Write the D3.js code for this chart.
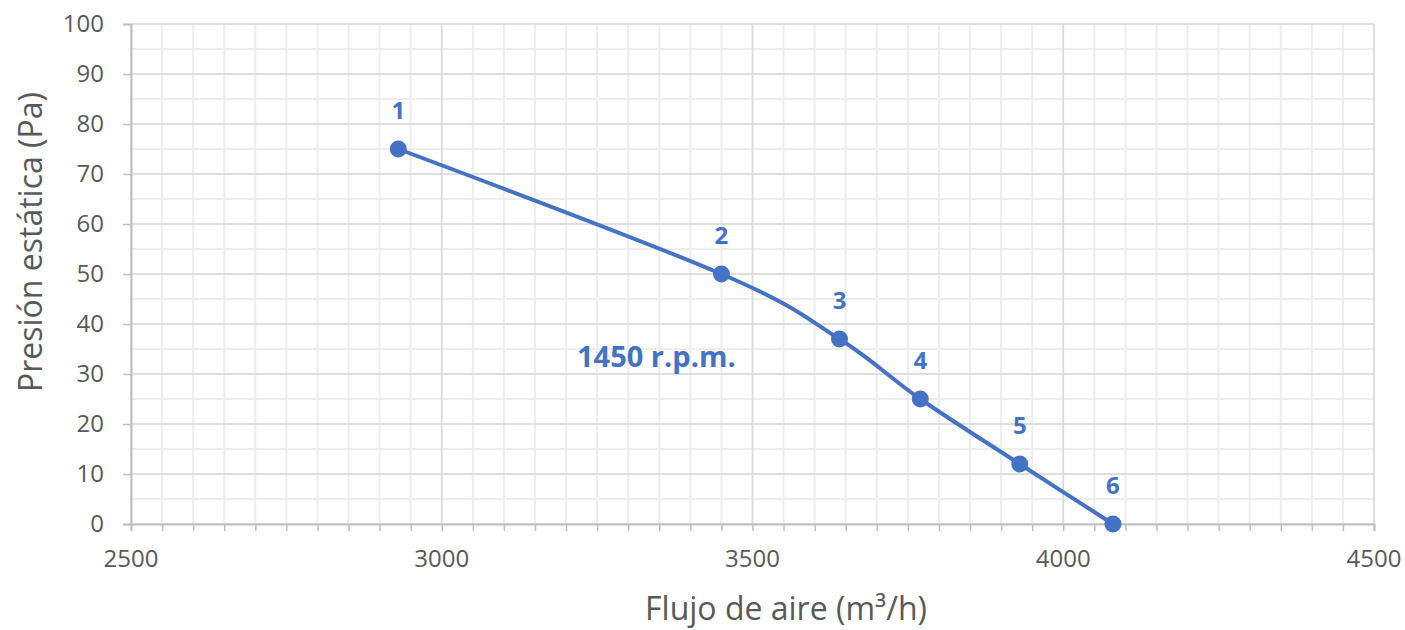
<!DOCTYPE html>
<html><head><meta charset="utf-8">
<script src="https://cdn.jsdelivr.net/npm/d3@7"></script>
<style>body{margin:0;background:#fff}svg{display:block}</style>
</head><body>
<svg id="c" width="1405" height="630"></svg>
<script>
const flow = [2930, 3450, 3640, 3770, 3930, 4080];
const pressure = [75, 50, 37, 25, 12, 0];
const pointLabels = ["1", "2", "3", "4", "5", "6"];
const xTicks = [2500, 3000, 3500, 4000, 4500];
const yTicks = [0, 10, 20, 30, 40, 50, 60, 70, 80, 90, 100];
const seriesName = "1450 r.p.m.";
const xTitle = "Flujo de aire (m³/h)";
const yTitle = "Presión estática (Pa)";

const FONT = "'Open Sans', sans-serif";
const BLUE = "#4472C4";
const svg = d3.select("#c");
const x = d3.scaleLinear().domain([2500, 4500]).range([131, 1374]);
const y = d3.scaleLinear().domain([0, 100]).range([524, 24]);

// minor grid
const xMinor = d3.range(2500, 4501, 50);
const yMinor = d3.range(0, 101, 5);
svg.append("g").selectAll("line").data(xMinor).join("line")
  .attr("x1", d => x(d)).attr("x2", d => x(d)).attr("y1", y(0)).attr("y2", y(100))
  .attr("stroke", "#ededed").attr("stroke-width", 2);
svg.append("g").selectAll("line").data(yMinor).join("line")
  .attr("x1", x(2500)).attr("x2", x(4500)).attr("y1", d => y(d)).attr("y2", d => y(d))
  .attr("stroke", "#ededed").attr("stroke-width", 2);
// major grid
svg.append("g").selectAll("line").data(xTicks).join("line")
  .attr("x1", d => x(d)).attr("x2", d => x(d)).attr("y1", y(0)).attr("y2", y(100))
  .attr("stroke", "#d9d9d9").attr("stroke-width", 1.5);
svg.append("g").selectAll("line").data(yTicks).join("line")
  .attr("x1", x(2500)).attr("x2", x(4500)).attr("y1", d => y(d)).attr("y2", d => y(d))
  .attr("stroke", "#d9d9d9").attr("stroke-width", 1.5);

// x axis
const xAxis = svg.append("g").attr("transform", `translate(0,${y(0)})`)
  .call(d3.axisBottom(x).tickValues(xMinor).tickSize(7).tickFormat(""));
xAxis.select(".domain").attr("stroke", "#bfbfbf").attr("stroke-width", 2);
xAxis.selectAll(".tick line").attr("stroke", "#bfbfbf").attr("stroke-width", 1.5);
svg.append("g").selectAll("text").data(xTicks).join("text")
  .attr("x", d => x(d)).attr("y", 567).attr("text-anchor", "middle")
  .attr("font-family", FONT).attr("font-size", 24).attr("fill", "#595959").text(d => d);

// y axis
const yAxis = svg.append("g").attr("transform", `translate(${x(2500)},0)`)
  .call(d3.axisLeft(y).tickValues(yTicks).tickSize(8).tickFormat(""));
yAxis.select(".domain").attr("stroke", "#bfbfbf").attr("stroke-width", 2);
yAxis.selectAll(".tick line").attr("stroke", "#bfbfbf").attr("stroke-width", 1.5);
svg.append("g").selectAll("text").data(yTicks).join("text")
  .attr("x", 104).attr("y", d => y(d)).attr("dy", "0.35em").attr("text-anchor", "end")
  .attr("font-family", FONT).attr("font-size", 24).attr("fill", "#595959").text(d => d);

// titles
svg.append("text").attr("x", 786).attr("y", 620).attr("text-anchor", "middle")
  .attr("font-family", FONT).attr("font-size", 32).attr("fill", "#595959").text(xTitle);
svg.append("text").attr("transform", "translate(42,242) rotate(-90)").attr("text-anchor", "middle")
  .attr("font-family", FONT).attr("font-size", 32).attr("fill", "#595959").text(yTitle);

// series
const data = flow.map((f, i) => ({f, p: pressure[i], l: pointLabels[i]}));
const line = d3.line().x(d => x(d.f)).y(d => y(d.p)).curve(d3.curveCardinal.tension(0));
svg.append("path").datum(data).attr("d", line).attr("fill", "none")
  .attr("stroke", BLUE).attr("stroke-width", 4).attr("stroke-linecap", "round");
svg.append("g").selectAll("circle").data(data).join("circle")
  .attr("cx", d => x(d.f)).attr("cy", d => y(d.p)).attr("r", 8.5).attr("fill", BLUE);
svg.append("g").selectAll("text").data(data).join("text")
  .attr("x", d => x(d.f)).attr("y", d => y(d.p) - 30).attr("text-anchor", "middle")
  .attr("font-family", FONT).attr("font-weight", "bold").attr("font-size", 24)
  .attr("fill", BLUE).text(d => d.l);
svg.append("text").attr("x", 577).attr("y", 367)
  .attr("font-family", FONT).attr("font-weight", "bold").attr("font-size", 29)
  .attr("fill", BLUE).text(seriesName);
</script>
</body></html>
